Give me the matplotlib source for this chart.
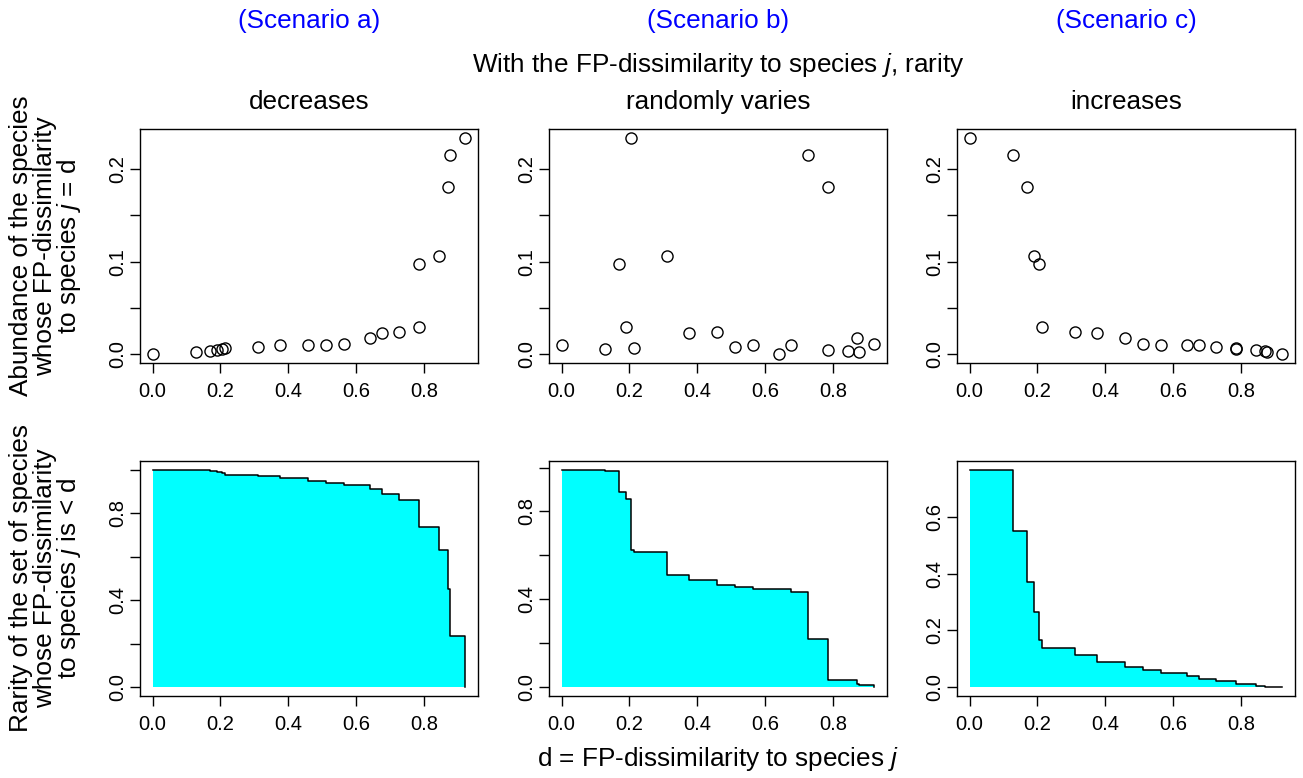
import numpy as np
import matplotlib
matplotlib.use("Agg")
import matplotlib.pyplot as plt

plt.rcParams["font.family"] = ["Liberation Sans", "DejaVu Sans"]
plt.rcParams["mathtext.fontset"] = "custom"
plt.rcParams["mathtext.rm"] = "Liberation Sans"
plt.rcParams["mathtext.it"] = "Liberation Sans:italic"

# FP-dissimilarity of each species to species j (same for all scenarios)
dissim = [0.0, 0.127, 0.170, 0.191, 0.205, 0.215, 0.310, 0.376, 0.458, 0.510,
          0.564, 0.642, 0.675, 0.727, 0.785, 0.786, 0.844, 0.871, 0.877, 0.922]

# relative abundances, in the order of dissim
abund_a = [0.0, 0.002, 0.0032, 0.005, 0.006, 0.0064, 0.0079, 0.0096, 0.01, 0.0104,
           0.0114, 0.018, 0.023, 0.0246, 0.029, 0.0975, 0.106, 0.18, 0.2154, 0.2336]
abund_b = [0.01, 0.006, 0.0975, 0.029, 0.2336, 0.0064, 0.106, 0.023, 0.0246, 0.0079,
           0.0096, 0.0, 0.0104, 0.2154, 0.18, 0.005, 0.0032, 0.018, 0.002, 0.0114]
abund_c = [0.2336, 0.2154, 0.18, 0.106, 0.0975, 0.029, 0.0246, 0.023, 0.018, 0.0114,
           0.0104, 0.01, 0.0096, 0.0079, 0.0064, 0.006, 0.005, 0.0032, 0.002, 0.0]

scenarios = ["(Scenario a)", "(Scenario b)", "(Scenario c)"]
trends = ["decreases", "randomly varies", "increases"]

x_ticks = [0.0, 0.2, 0.4, 0.6, 0.8]
x_labels = ["0.0", "0.2", "0.4", "0.6", "0.8"]
top_yticks = [0.0, 0.05, 0.1, 0.15, 0.2]
top_ylabels = ["0.0", "", "0.1", "", "0.2"]
bot_yticks = [[0.0, 0.2, 0.4, 0.6, 0.8, 1.0],
              [0.0, 0.2, 0.4, 0.6, 0.8, 1.0],
              [0.0, 0.2, 0.4, 0.6]]
bot_ylabels = [["0.0", "", "0.4", "", "0.8", ""],
               ["0.0", "", "0.4", "", "0.8", ""],
               ["0.0", "0.2", "0.4", "0.6"]]

# layout in pixels
W, H = 1303, 778
col_left = [140, 549, 957]
col_center = [309, 718, 1126]
ax_w = 338
row_top = [(129, 363), (461, 696)]
FS = 18.8
TFS = 14.5

fig = plt.figure(figsize=(W / 100, H / 100), dpi=100)


def add_ax(left, top, bottom):
    return fig.add_axes([left / W, 1 - bottom / H, ax_w / W, (bottom - top) / H])


def r_lim(vals):
    lo, hi = min(vals), max(vals)
    span = hi - lo
    return lo - 0.04 * span, hi + 0.04 * span


def style(ax):
    for s in ax.spines.values():
        s.set_linewidth(1.0)
    ax.tick_params(direction="out", length=7, width=1.0, labelsize=TFS, pad=7)
    ax.tick_params(axis="y", labelrotation=90, pad=2)
    ax.set_xticks(x_ticks)
    ax.set_xticklabels(x_labels)
    ax.set_xlim(*r_lim(dissim))


d = np.array(dissim)
for i, ab in enumerate([abund_a, abund_b, abund_c]):
    ab = np.array(ab)

    # top row: abundance vs dissimilarity
    ax = add_ax(col_left[i], *row_top[0])
    ax.plot(d, ab, "o", mfc="none", mec="black", ms=8, mew=1.0)
    style(ax)
    ax.set_ylim(*r_lim(ab))
    ax.set_yticks(top_yticks)
    ax.set_yticklabels(top_ylabels)
    for lab in ax.get_yticklabels():
        lab.set_va("center")

    # bottom row: rarity of the set of species closer than d
    rarity = 1 - np.cumsum(ab) / ab.sum()
    ax = add_ax(col_left[i], *row_top[1])
    ax.fill_between(d, rarity, step="post", color="#00FFFF", lw=0)
    ax.step(d, rarity, where="post", color="black", lw=1.1)
    style(ax)
    ax.set_ylim(*r_lim(np.append(rarity, 0)))
    ax.set_yticks(bot_yticks[i])
    ax.set_yticklabels(bot_ylabels[i])
    for lab in ax.get_yticklabels():
        lab.set_va("center")

    fig.text(col_center[i] / W, 1 - 21 / H, scenarios[i], color="blue",
             fontsize=FS, ha="center", va="center")
    fig.text(col_center[i] / W, 1 - 102 / H, trends[i],
             fontsize=FS, ha="center", va="center")

fig.text(718 / W, 1 - 65 / H, "With the FP-dissimilarity to species $j$, rarity",
         fontsize=FS, ha="center", va="center")
fig.text(718 / W, 1 - 759 / H, "d = FP-dissimilarity to species $j$",
         fontsize=FS, ha="center", va="center")

ylab_top = ["Abundance of the species", "whose FP-dissimilarity", "to species $j$ = d"]
ylab_bot = ["Rarity of the set of species", "whose FP-dissimilarity", "to species $j$ is < d"]
line_x = [21, 45, 69]
for k in range(3):
    fig.text(line_x[k] / W, 1 - 246 / H, ylab_top[k], fontsize=FS,
             rotation=90, ha="center", va="center")
    fig.text(line_x[k] / W, 1 - 578 / H, ylab_bot[k], fontsize=FS,
             rotation=90, ha="center", va="center")

fig.savefig("out.png", dpi=100)
